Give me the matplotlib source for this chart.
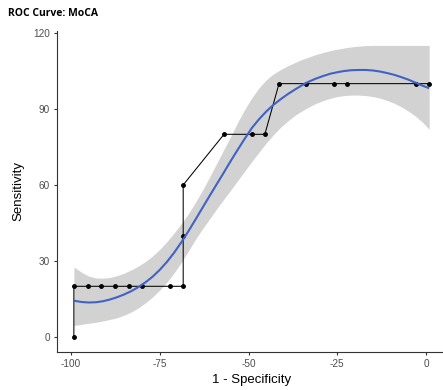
import numpy as np
import matplotlib.pyplot as plt

# ---- data ----
roc_x = [-99.2, -99.2, -95.3, -91.5, -87.6, -83.7, -79.9, -72.2, -68.4, -68.4, -68.4,
         -56.9, -49.1, -45.4, -41.4, -33.8, -26.0, -22.3, -2.9, 0.9]
roc_y = [0, 20, 20, 20, 20, 20, 20, 20, 20, 40, 60,
         80, 80, 80, 100, 100, 100, 100, 100, 100]

# smoothed fit and its confidence band
fit_x = [-99.2, -97, -95, -93, -91, -89, -87, -85, -83, -81, -79, -77, -75, -73,
         -71, -69, -67, -65, -63, -61, -59, -57, -55, -53, -51, -49, -47, -45,
         -43, -41, -39, -37, -35, -33, -31, -29, -27, -25, -23, -21, -19, -17,
         -15, -13, -11, -9, -7, -5, -3, -1, 0.9]
fit_y = [14.3, 13.8, 13.6, 13.7, 14.1, 14.8, 15.7, 16.8, 18.1, 19.7, 21.6, 23.8, 26.5, 29.6,
         33.2, 37.2, 41.6, 46.2, 50.9, 55.6, 60.2, 64.8, 69.5, 74.0, 78.4, 82.6, 86.0, 89.0,
         91.6, 93.8, 95.8, 97.6, 99.3, 100.8, 102.0, 103.0, 103.9, 104.5, 105.0, 105.3, 105.4, 105.4,
         105.2, 104.8, 104.2, 103.5, 102.6, 101.6, 100.4, 99.2, 98.2]
fit_lo = [4.5, 5.0, 5.4, 5.8, 6.3, 6.9, 7.6, 8.6, 9.9, 11.5, 13.5, 15.8, 18.5, 21.6,
          25.2, 29.3, 33.8, 38.4, 42.6, 46.5, 50.5, 54.3, 58.0, 61.8, 65.6, 69.4, 73.0, 76.6,
          79.8, 82.7, 85.2, 87.4, 89.2, 90.8, 92.2, 93.3, 94.2, 94.9, 95.3, 95.5, 95.5, 95.3,
          94.9, 94.3, 93.4, 92.3, 90.9, 89.2, 87.2, 84.8, 82.0]
fit_hi = [27.6, 25.5, 24.0, 23.3, 23.2, 23.5, 24.2, 25.2, 26.5, 28.0, 29.8, 32.0, 34.6, 37.6,
          41.0, 44.6, 48.5, 53.0, 57.8, 63.0, 68.4, 73.8, 79.2, 84.8, 90.0, 94.5, 98.4, 101.5,
          103.8, 105.5, 107.0, 108.3, 109.5, 110.5, 111.5, 112.3, 113.0, 113.6, 114.1, 114.5, 114.8, 115.0,
          115.1, 115.1, 115.1, 115.1, 115.1, 115.1, 115.1, 115.1, 115.1]

xticks = [-100, -75, -50, -25, 0]
yticks = [0, 30, 60, 90, 120]

# ---- figure ----
fig = plt.figure(figsize=(4.43, 3.90), dpi=100)
ax = fig.add_axes([57/443, 0.0977, 389.4/443, 0.8226])

ax.fill_between(fit_x, fit_lo, fit_hi, color="#d3d2d3", lw=0, zorder=1)
ax.plot(roc_x, roc_y, color="black", lw=0.75, zorder=2)
ax.plot(roc_x, roc_y, "o", color="black", ms=2.5, zorder=3)
ax.plot(fit_x, fit_y, color="#3f62c4", lw=1.5, zorder=4, solid_capstyle="butt")

ax.set_xlim(-103.95, 5.75)
ax.set_ylim(-5.9, 120.75)
ax.set_xticks(xticks)
ax.set_yticks(yticks)
ax.set_xticklabels([str(t) for t in xticks])
ax.set_yticklabels([str(t) for t in yticks])

for s in ["top", "right"]:
    ax.spines[s].set_visible(False)
for s in ["left", "bottom"]:
    ax.spines[s].set_color("#333333")
    ax.spines[s].set_linewidth(0.8)

ax.tick_params(length=2.5, width=0.8, color="#333333", labelcolor="#4d4d4d",
               labelsize=7.2, pad=2.5)
for lab in ax.get_xticklabels() + ax.get_yticklabels():
    lab.set_family("Liberation Sans")

ax.set_xlabel("1 - Specificity", family="Liberation Sans", fontsize=9.5, labelpad=4)
ax.set_ylabel("Sensitivity", family="Liberation Sans", fontsize=9.5, labelpad=6)

fig.text(8/443, 1 - 16/390, "ROC Curve: MoCA", family="Open Sans", weight="bold",
         fontsize=7.5, ha="left", va="baseline")

fig.savefig("out.png", dpi=100)
